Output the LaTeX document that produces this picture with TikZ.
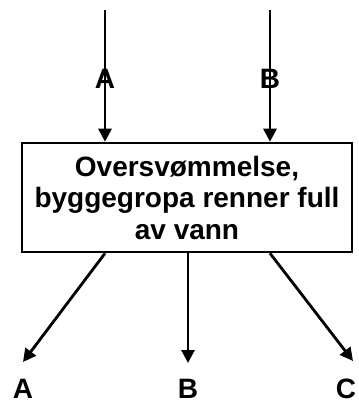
\documentclass[tikz,border=0pt]{standalone}
\usepackage{fontspec}
\setmainfont{Liberation Sans}
\usetikzlibrary{arrows.meta}
\begin{document}
\begin{tikzpicture}[x=1pt,y=-1pt,
  line width=2.8pt,
  conn/.style={-{Triangle[width=13pt,length=13pt]}},
  lbl/.style={font=\fontsize{28}{32}\selectfont\bfseries, inner sep=0pt},
  event/.style={draw, line width=2.6pt, minimum width=330pt, minimum height=109pt,
    align=center, font=\fontsize{28}{31.5}\selectfont\bfseries, inner sep=0pt}]
  \useasboundingbox (0,0) rectangle (359,405);
  % central event box
  \node[event] (box) at (187,197.5) {Oversvømmelse,\\byggegropa renner full\\av vann};
  % incoming causes
  \coordinate (inA) at (105,10);
  \coordinate (inB) at (270,10);
  \draw[conn] (inA) -- (inA |- box.north);
  \draw[conn] (inB) -- (inB |- box.north);
  \node[lbl] (topA) at (105,79) {A};
  \node[lbl] (topB) at (270,79) {B};
  % outgoing consequences
  \coordinate (outA) at (23,362);
  \coordinate (outB) at (188,363);
  \coordinate (outC) at (353,361);
  \draw[conn] (inA |- box.south) -- (outA);
  \draw[conn] (outB |- box.south) -- (outB);
  \draw[conn] (inB |- box.south) -- (outC);
  \node[lbl] (botA) at (23,389) {A};
  \node[lbl] (botB) at (188,389) {B};
  \node[lbl] (botC) at (346,389) {C};
\end{tikzpicture}
\end{document}
